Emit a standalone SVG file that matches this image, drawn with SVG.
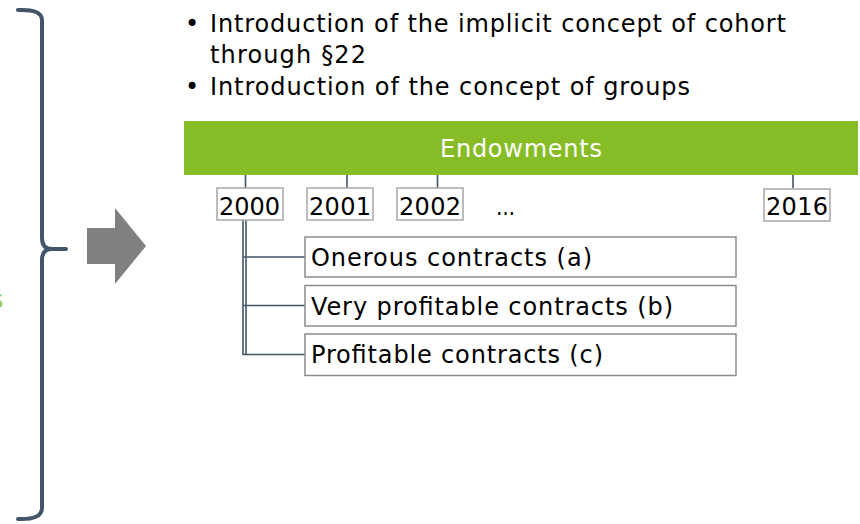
<svg xmlns="http://www.w3.org/2000/svg" width="860" height="524" viewBox="0 0 860 524">
<style>
text{font-family:"DejaVu Sans","Verdana",sans-serif;font-size:24px;fill:#000}
.yr{fill:#fff;stroke:#a6a6a6;stroke-width:1.5}
.box{fill:#fff;stroke:#8c8c8c;stroke-width:1.5}
.ln{stroke:#44546a;stroke-width:1.6;fill:none}
</style>
<rect width="860" height="524" fill="#fff"/>
<text x="-9" y="308" style="fill:#92d050">s</text>
<g id="brace"><path d="M18,10 Q42,9 42,20 L42,238 Q42,249 52,249 L66,249 M52,249 Q42,249 42,260 L42,508 Q42,520 18,519" fill="none" stroke="#44546a" stroke-width="4" stroke-linecap="round"/></g>
<g id="arrow"><polygon points="87,228 115,228 115,208 146,246 115,284 115,264 87,264" fill="#808080"/></g>
<g id="bullets">
<text x="192" y="32" text-anchor="middle">•</text>
<text x="210" y="32" textLength="576" lengthAdjust="spacing">Introduction of the implicit concept of cohort</text>
<text x="210" y="63" textLength="156" lengthAdjust="spacing">through §22</text>
<text x="192" y="95" text-anchor="middle">•</text>
<text x="210" y="95" textLength="480" lengthAdjust="spacing">Introduction of the concept of groups</text>
</g>
<g id="connectors">
<line class="ln" x1="245.5" y1="175" x2="245.5" y2="188"/>
<line class="ln" x1="347" y1="175" x2="347" y2="188"/>
<line class="ln" x1="437.5" y1="175" x2="437.5" y2="188"/>
<line class="ln" x1="793" y1="175" x2="793" y2="188"/>
<polyline class="ln" points="243,220 243,354.5 305,354.5"/>
<polyline class="ln" points="246,220 246,354.5"/>
<line class="ln" x1="243" y1="257" x2="305" y2="257"/>
<line class="ln" x1="243" y1="305.5" x2="305" y2="305.5"/>
</g>
<g id="endowments"><rect x="184" y="121" width="674" height="54" fill="#86bc25"/><text x="521" y="157" text-anchor="middle" style="fill:#fff" textLength="162" lengthAdjust="spacing">Endowments</text></g>
<g id="y2000"><rect class="yr" x="217" y="188" width="66" height="32"/><text x="219" y="215" textLength="61">2000</text></g>
<g id="y2001"><rect class="yr" x="307" y="188" width="66" height="32"/><text x="309" y="215" textLength="62">2001</text></g>
<g id="y2002"><rect class="yr" x="397" y="188" width="66" height="32"/><text x="399" y="215" textLength="62">2002</text></g>
<g id="ellipsis"><text x="496" y="215" textLength="19" lengthAdjust="spacingAndGlyphs">…</text></g>
<g id="y2016"><rect class="yr" x="764" y="189" width="66" height="32"/><text x="766" y="215" textLength="62">2016</text></g>
<g id="onerous"><rect class="box" x="305" y="237" width="431" height="40"/><text x="311" y="266" textLength="281" lengthAdjust="spacing">Onerous contracts (a)</text></g>
<g id="veryprofitable"><rect class="box" x="305" y="285.5" width="431" height="40.5"/><text x="311" y="315" textLength="362" lengthAdjust="spacing">Very profitable contracts (b)</text></g>
<g id="profitable"><rect class="box" x="305" y="334" width="431" height="41.5"/><text x="311" y="363" textLength="292" lengthAdjust="spacing">Profitable contracts (c)</text></g>
</svg>
